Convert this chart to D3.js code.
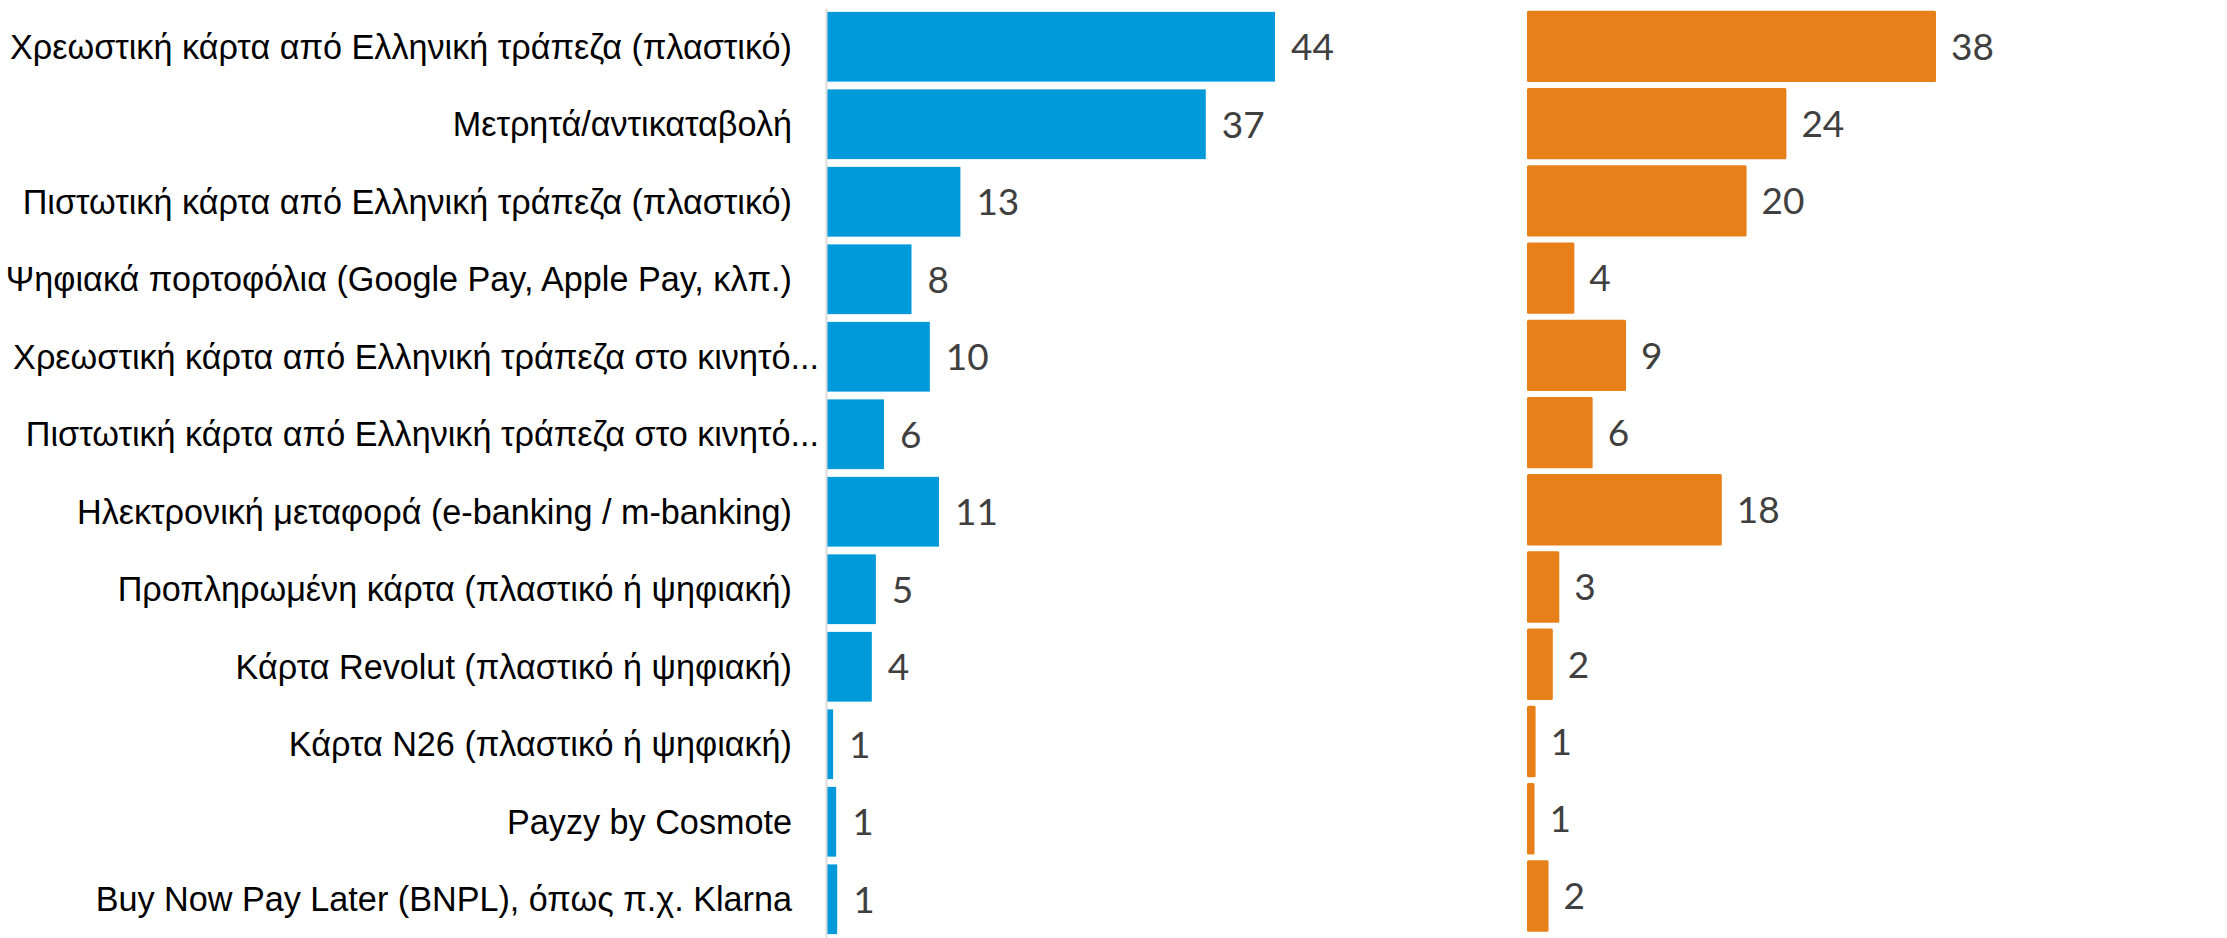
<!DOCTYPE html>
<html>
<head>
<meta charset="utf-8">
<script src="https://cdn.jsdelivr.net/npm/d3@7"></script>
<style>
  html, body { margin: 0; padding: 0; background: #fff; }
  svg { display: block; }
</style>
</head>
<body>
<svg id="chart"></svg>
<script>
const categories = [
  "Χρεωστική κάρτα από Ελληνική τράπεζα (πλαστικό)",
  "Μετρητά/αντικαταβολή",
  "Πιστωτική κάρτα από Ελληνική τράπεζα (πλαστικό)",
  "Ψηφιακά πορτοφόλια (Google Pay, Apple Pay, κλπ.)",
  "Χρεωστική κάρτα από Ελληνική τράπεζα στο κινητό...",
  "Πιστωτική κάρτα από Ελληνική τράπεζα στο κινητό...",
  "Ηλεκτρονική μεταφορά (e-banking / m-banking)",
  "Προπληρωμένη κάρτα (πλαστικό ή ψηφιακή)",
  "Κάρτα Revolut (πλαστικό ή ψηφιακή)",
  "Κάρτα N26 (πλαστικό ή ψηφιακή)",
  "Payzy by Cosmote",
  "Buy Now Pay Later (BNPL), όπως π.χ. Klarna"
];
const blueValues = [44.0, 37.2, 13.1, 8.3, 10.1, 5.6, 11.0, 4.8, 4.4, 0.6, 0.9, 1.0];
const orangeValues = [38.0, 24.1, 20.4, 4.4, 9.2, 6.1, 18.1, 3.0, 2.4, 0.8, 0.7, 2.0];

const width = 2227, height = 938;
const svg = d3.select("#chart").attr("width", width).attr("height", height);

const fmt = d3.format(".0f");

// left panel (blue)
const bx0 = 827;
const yBlue = d3.scaleBand().domain(categories).range([8, 938]).paddingInner(0.1).paddingOuter(0.05);
const xBlue = d3.scaleLinear().domain([0, d3.max(blueValues)]).range([bx0, bx0 + 448]);

// right panel (orange)
const ox0 = 1527;
const yOrange = d3.scaleBand().domain(categories).range([7.7, 934.6]).paddingInner(0.077).paddingOuter(0.0385);
const xOrange = d3.scaleLinear().domain([0, d3.max(orangeValues)]).range([ox0, ox0 + 409]);

svg.append("g")
    .selectAll("rect")
    .data(categories)
    .join("rect")
      .attr("x", xBlue(0))
      .attr("y", d => yBlue(d))
      .attr("width", (d, i) => xBlue(blueValues[i]) - xBlue(0))
      .attr("height", yBlue.bandwidth())
      .attr("fill", "#009ADB");

svg.append("g")
    .selectAll("rect")
    .data(categories)
    .join("rect")
      .attr("x", xOrange(0))
      .attr("y", d => yOrange(d))
      .attr("width", (d, i) => xOrange(orangeValues[i]) - xOrange(0))
      .attr("height", yOrange.bandwidth())
      .attr("rx", 1.5)
      .attr("fill", "#E88019");

// vertical axis line on the left panel
const axis = svg.append("g")
    .attr("transform", `translate(${bx0 - 1},0)`)
    .call(d3.axisLeft(yBlue).tickSize(0).tickSizeOuter(0).tickFormat(""));
axis.select(".domain").attr("stroke", "#dcdcdc").attr("stroke-width", 2);

// category labels
svg.append("g")
    .selectAll("text")
    .data(categories)
    .join("text")
      .attr("x", d => d.endsWith("...") ? bx0 - 8 : bx0 - 35)
      .attr("y", d => yBlue(d) + yBlue.bandwidth() / 2)
      .attr("dy", "0.35em")
      .attr("text-anchor", "end")
      .style("font-family", "'Liberation Sans', Arial, sans-serif")
      .style("font-size", "34.2px")
      .attr("fill", "#000")
      .text(d => d);

// value labels
const valueFont = "Lato, 'Liberation Sans', sans-serif";
svg.append("g")
    .selectAll("text")
    .data(categories)
    .join("text")
      .attr("x", (d, i) => xBlue(blueValues[i]) + 16)
      .attr("y", d => yBlue(d) + yBlue.bandwidth() / 2)
      .attr("dy", "0.36em")
      .style("font-family", valueFont)
      .style("font-size", "37px")
      .attr("fill", "#404040")
      .text((d, i) => fmt(blueValues[i]));

svg.append("g")
    .selectAll("text")
    .data(categories)
    .join("text")
      .attr("x", (d, i) => xOrange(orangeValues[i]) + 15)
      .attr("y", d => yOrange(d) + yOrange.bandwidth() / 2)
      .attr("dy", "0.36em")
      .style("font-family", valueFont)
      .style("font-size", "37px")
      .attr("fill", "#404040")
      .text((d, i) => fmt(orangeValues[i]));
</script>
</body>
</html>
